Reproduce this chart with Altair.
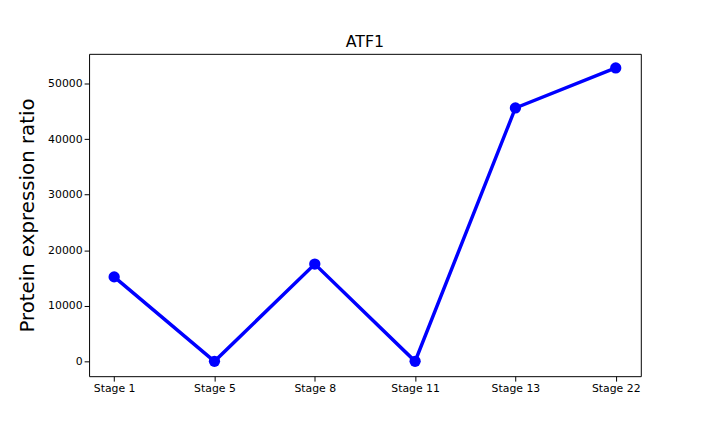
import altair as alt
import pandas as pd

stages = ["Stage 1", "Stage 5", "Stage 8", "Stage 11", "Stage 13", "Stage 22"]
ratios = [15200, 0, 17500, 0, 45600, 52800]

df = pd.DataFrame({"stage": stages, "ratio": ratios})

base = alt.Chart(df).encode(
    x=alt.X("stage:N", sort=stages, title=None,
            scale=alt.Scale(type="point", padding=0.25),
            axis=alt.Axis(labelAngle=0, grid=False, labelFontSize=11, labelColor="black",
                          tickColor="black", domain=False)),
    y=alt.Y("ratio:Q", title="Protein expression ratio",
            scale=alt.Scale(domain=[-2670, 55340], nice=False, zero=False),
            axis=alt.Axis(values=[0, 10000, 20000, 30000, 40000, 50000], format="d", grid=False,
                          labelFontSize=11, labelColor="black", tickColor="black",
                          titleFontSize=20, titleFontWeight="normal", titleColor="black",
                          titlePadding=10, domain=False)),
)

line = base.mark_line(color="#0000ff", strokeWidth=3.5)
points = base.mark_circle(color="#0000ff", size=130, opacity=1)

chart = (line + points).properties(
    width=558, height=326,
    title=alt.TitleParams("ATF1", fontSize=16, fontWeight="normal", offset=4, color="black"),
    padding={"left": 82, "top": 44, "right": 72, "bottom": 46},
    autosize="none",
).configure(font="DejaVu Sans").configure_view(stroke="black", strokeWidth=1, strokeOpacity=1)

chart.save("out.html", embed_options={"renderer": "svg", "actions": False})
